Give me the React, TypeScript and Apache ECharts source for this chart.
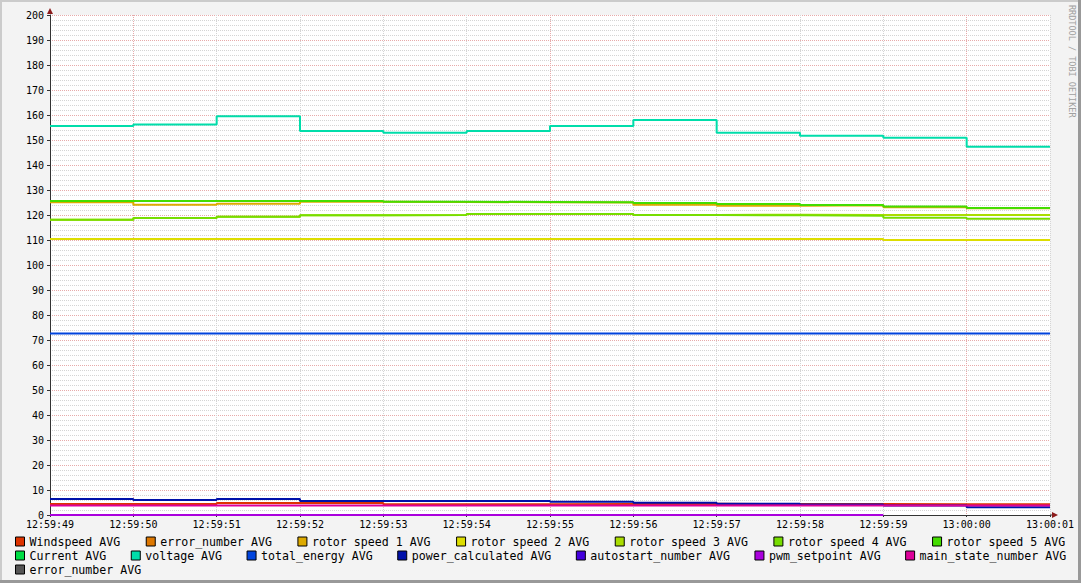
import React, { useEffect, useRef } from "react";
import * as echarts from "echarts";

// x tick labels (one per second)
const timeLabels = [
  "12:59:49", "12:59:50", "12:59:51", "12:59:52", "12:59:53", "12:59:54", "12:59:55",
  "12:59:56", "12:59:57", "12:59:58", "12:59:59", "13:00:00", "13:00:01",
];

// one averaged value per 1-second interval (12 intervals), RRD step style
const windspeed = [4.4, 4.4, 4.8, 4.8, 4.3, 4.3, 4.4, 4.5, 4.4, 4.4, 4.3, 4.3];
const errorNumber = [null, null, null, null, null, null, null, null, null, null, null, null];
const rotorSpeed1 = [125.1, 124.1, 124.5, 125.3, 125.2, 125.1, 125.0, 124.1, 123.7, 123.9, 123.1, 122.7];
const rotorSpeed2 = [110.4, 110.4, 110.4, 110.4, 110.4, 110.4, 110.4, 110.4, 110.4, 110.4, 110.0, 110.0];
const rotorSpeed3 = [118.1, 118.8, 119.3, 119.9, 120.0, 120.4, 120.4, 120.0, 120.1, 120.0, 120.0, 120.0];
const rotorSpeed4 = [118.1, 118.8, 119.3, 119.9, 120.0, 120.4, 120.4, 120.0, 119.9, 119.7, 118.9, 118.5];
const rotorSpeed5 = [125.6, 125.6, 125.6, 125.6, 125.3, 125.2, 125.1, 124.8, 124.4, 124.0, 123.4, 122.8];
const current = [null, null, null, null, null, null, null, null, null, null, null, null];
const voltage = [155.6, 156.2, 159.5, 153.6, 152.9, 153.6, 155.6, 158.0, 152.9, 151.7, 150.9, 147.3];
const totalEnergy = [72.6, 72.6, 72.6, 72.6, 72.6, 72.6, 72.6, 72.6, 72.6, 72.6, 72.6, 72.6];
const powerCalculated = [6.4, 6.0, 6.4, 5.6, 5.6, 5.6, 5.3, 4.9, 4.5, 4.2, 3.8, 3.1];
const autostartNumber = [null, null, null, null, null, null, null, null, null, null, null, null];
const pwmSetpoint = [0, 0, 0, 0, 0, 0, 0, 0, 0, 0, null, null];
const mainStateNumber = [3.8, 3.8, 3.8, 3.8, 3.8, 3.8, 3.8, 3.8, 3.8, 3.8, 3.8, 3.8];
const errorNumber2 = [null, null, null, null, null, null, null, null, null, null, null, null];

const yTicks = { min: 0, max: 200, interval: 10 };

const seriesDefs = [
  { name: "Windspeed AVG", color: "#DD3300", values: windspeed },
  { name: "error_number AVG", color: "#DD7700", values: errorNumber },
  { name: "rotor speed 1 AVG", color: "#DDAA00", values: rotorSpeed1 },
  { name: "rotor speed 2 AVG", color: "#DDDD00", values: rotorSpeed2 },
  { name: "rotor speed 3 AVG", color: "#AADD00", values: rotorSpeed3 },
  { name: "rotor speed 4 AVG", color: "#77DD00", values: rotorSpeed4 },
  { name: "rotor speed 5 AVG", color: "#44DD00", values: rotorSpeed5 },
  { name: "Current AVG", color: "#00DD44", values: current },
  { name: "voltage AVG", color: "#00DDAA", values: voltage },
  { name: "total_energy AVG", color: "#0044DD", values: totalEnergy },
  { name: "power_calculated AVG", color: "#0011AA", values: powerCalculated },
  { name: "autostart_number AVG", color: "#4400DD", values: autostartNumber },
  { name: "pwm_setpoint AVG", color: "#AA00DD", values: pwmSetpoint },
  { name: "main_state_number AVG", color: "#DD0099", values: mainStateNumber },
  { name: "error_number AVG ", color: "#555555", values: errorNumber2 },
];

const toSteps = (vals: (number | null)[]) => [
  [0, vals[0]],
  ...vals.map((v, i) => [i + 1, v]),
];

const MONO = "'DejaVu Sans Mono', monospace";
const GRID_GRAY = "#d4d4d4";
const GRID_RED = "#e7aaaa";

const legendRow = (names: string[], top: number, gap: number) => ({
  data: names,
  left: 15,
  top,
  orient: "horizontal",
  itemGap: gap,
  itemWidth: 9,
  itemHeight: 9,
  icon: "rect",
  padding: 0,
  selectedMode: false,
  formatter: (n: string) => n.trim(),
  itemStyle: { borderColor: "#000", borderWidth: 1 },
  textStyle: { fontFamily: MONO, fontSize: 11.6, color: "#000" },
});

export default function App() {
  const ref = useRef<HTMLDivElement>(null);
  useEffect(() => {
    const chart = echarts.init(ref.current!, null, { renderer: "svg" });
    const names = seriesDefs.map((s) => s.name);
    chart.setOption({
      animation: false,
      backgroundColor: "#f3f3f3",
      grid: {
        left: 50,
        top: 15,
        width: 1000,
        height: 500,
        show: true,
        backgroundColor: "#ffffff",
        borderWidth: 0,
      },
      legend: [
        legendRow(names.slice(0, 7), 535.5, 25.5),
        legendRow(names.slice(7, 14), 549.5, 24.5),
        legendRow(names.slice(14), 563.5, 24.5),
      ],
      xAxis: {
        type: "value",
        min: 0,
        max: timeLabels.length - 1,
        interval: 1,
        axisLine: { show: true, onZero: false, lineStyle: { color: "#333", width: 1 } },
        axisTick: { show: true, length: 2, lineStyle: { color: "#333" } },
        axisLabel: {
          margin: 4,
          fontFamily: MONO,
          fontSize: 10,
          color: "#000",
          formatter: (v: number) => timeLabels[Math.round(v)] ?? "",
        },
        splitLine: {
          show: true,
          lineStyle: {
            color: [GRID_GRAY, GRID_RED, GRID_GRAY, GRID_GRAY, GRID_GRAY],
            type: [1, 1],
            width: 1,
          },
        },
      },
      yAxis: {
        type: "value",
        min: yTicks.min,
        max: yTicks.max,
        interval: yTicks.interval,
        axisLine: { show: true, lineStyle: { color: "#333", width: 1 } },
        axisTick: { show: true, length: 3, lineStyle: { color: "#333" } },
        axisLabel: { margin: 6, fontFamily: MONO, fontSize: 10, color: "#000" },
        splitLine: { show: true, lineStyle: { color: GRID_RED, type: [1, 1], width: 1 } },
        minorTick: { show: false, splitNumber: 5 },
        minorSplitLine: { show: true, lineStyle: { color: GRID_GRAY, type: [1, 1], width: 1 } },
      },
      graphic: [
        { type: "rect", shape: { x: 0, y: 0, width: 1081, height: 2 }, style: { fill: "#cbcbcb" }, silent: true },
        { type: "rect", shape: { x: 0, y: 0, width: 2, height: 583 }, style: { fill: "#cbcbcb" }, silent: true },
        { type: "rect", shape: { x: 1078, y: 0, width: 3, height: 583 }, style: { fill: "#999999" }, silent: true },
        { type: "rect", shape: { x: 0, y: 580, width: 1081, height: 3 }, style: { fill: "#999999" }, silent: true },
        { type: "polygon", shape: { points: [[47, 14], [53, 14], [50, 8]] }, style: { fill: "#8c1c1c" }, silent: true, z: 10 },
        { type: "polygon", shape: { points: [[1052, 512], [1052, 518], [1058, 515]] }, style: { fill: "#8c1c1c" }, silent: true, z: 10 },
        { type: "line", shape: { x1: 1050, y1: 515, x2: 1053, y2: 515 }, style: { stroke: "#333", lineWidth: 1 }, silent: true },
        {
          type: "text",
          x: 1072,
          y: 5,
          rotation: -Math.PI / 2,
          style: {
            text: "RRDTOOL / TOBI OETIKER",
            fontFamily: MONO,
            fontSize: 8.5,
            fill: "#a0a0a0",
            align: "left",
            verticalAlign: "middle",
          },
          silent: true,
        },
      ],
      series: seriesDefs.map((s) => ({
        name: s.name,
        type: "line",
        step: "start",
        showSymbol: false,
        symbol: "none",
        connectNulls: false,
        color: s.color,
        itemStyle: { color: s.color },
        lineStyle: { color: s.color, width: 2 },
        data: toSteps(s.values),
        silent: true,
      })),
    });
    return () => chart.dispose();
  }, []);
  return (
    <div
      ref={ref}
      style={{ position: "absolute", left: 0, top: 0, width: 1081, height: 583 }}
    />
  );
}
